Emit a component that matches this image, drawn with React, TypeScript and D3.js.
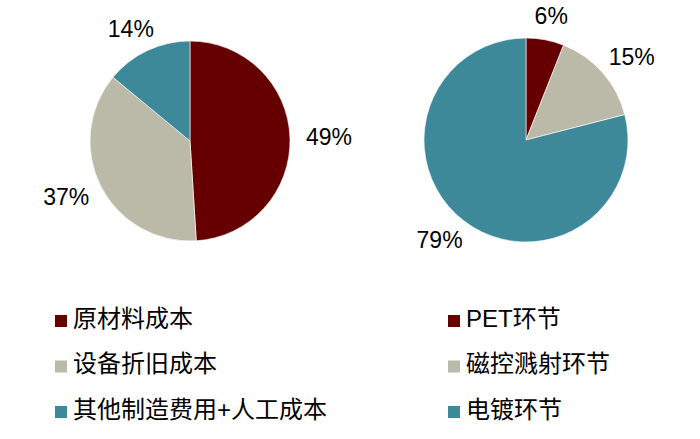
import * as d3 from "d3";

const leftCategories = ["原材料成本", "设备折旧成本", "其他制造费用+人工成本"];
const leftValues = [49, 37, 14];

const rightCategories = ["PET环节", "磁控溅射环节", "电镀环节"];
const rightValues = [6, 15, 79];

const colors = ["#660000", "#BBBAA8", "#3D8899"];

const width = 700;
const height = 439;

const labelSize = 23;

type PieProps = {
  values: number[];
  cx: number;
  cy: number;
  r: number;
};

function Pie({ values, cx, cy, r }: PieProps) {
  const pie = d3
    .pie<number>()
    .sort(null)
    .value((d) => d);
  const arcs = pie(values);
  const arcBuilder = d3
    .arc<d3.PieArcDatum<number>>()
    .innerRadius(0)
    .outerRadius(r);

  // "outside end" labels: the box touches a point a little past the rim
  const gap = 16;

  return (
    <g transform={`translate(${cx},${cy})`}>
      {arcs.map((a, i) => (
        <path
          key={i}
          d={arcBuilder(a) ?? undefined}
          fill={colors[i]}
          stroke="#fff"
          strokeWidth={0.6}
        />
      ))}
      {arcs.map((a, i) => {
        const ang = (a.startAngle + a.endAngle) / 2;
        const s = Math.sin(ang);
        const c = Math.cos(ang);
        const label = `${a.data}%`;
        const w = (String(a.data).length * 0.556 + 0.889) * labelSize;
        const h = 16;
        const x = (r + gap) * s + (s * w) / 2;
        const y = -(r + gap) * c - (c * h) / 2;
        return (
          <text
            key={"t" + i}
            x={x}
            y={y}
            textAnchor="middle"
            dominantBaseline="central"
            fontSize={labelSize}
            fontFamily="'Liberation Sans', Arial, sans-serif"
            fill="#000"
          >
            {label}
          </text>
        );
      })}
    </g>
  );
}

type LegendProps = {
  items: string[];
  x: number;
  y: number;
};

function Legend({ items, x, y }: LegendProps) {
  const rowY = d3
    .scalePoint<number>()
    .domain(items.map((_, i) => i))
    .range([y, y + 91]);
  return (
    <g>
      {items.map((name, i) => (
        <g key={name} transform={`translate(${x},${rowY(i)})`}>
          <rect x={0} y={-3} width={12} height={12} fill={colors[i]} />
          <text
            x={18}
            y={0}
            dominantBaseline="central"
            fontSize={24}
            fontFamily="'Liberation Sans', 'Noto Sans CJK SC', sans-serif"
            fill="#000"
          >
            {name}
          </text>
        </g>
      ))}
    </g>
  );
}

export default function App() {
  return (
    <svg
      width={width}
      height={height}
      style={{ position: "absolute", left: 0, top: 0, background: "#fff" }}
    >
      <Pie values={leftValues} cx={190} cy={141} r={100} />
      <Pie values={rightValues} cx={526} cy={140} r={102} />
      <Legend items={leftCategories} x={55} y={318} />
      <Legend items={rightCategories} x={448} y={318} />
    </svg>
  );
}
